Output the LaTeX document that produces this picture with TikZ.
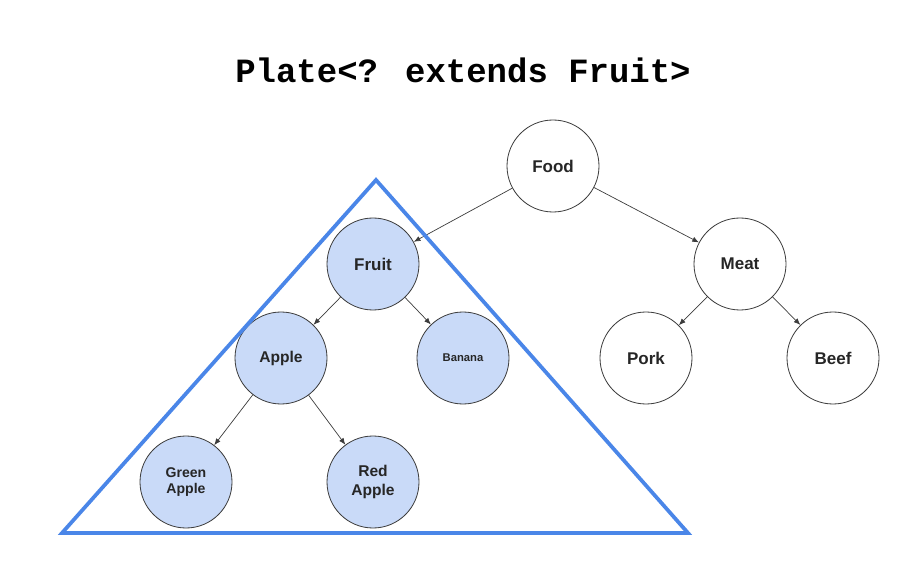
\documentclass[tikz,border=0pt]{standalone}
\usepackage{fontspec}
\setmainfont{Liberation Sans}
\newfontfamily\codefont{Liberation Mono}
\usepackage{xcolor}
\usepackage{tikz}
\usetikzlibrary{arrows.meta}

\definecolor{nodefill}{HTML}{C9DAF8}
\definecolor{plateblue}{HTML}{4A86E8}
\definecolor{edgegray}{HTML}{3C3C3C}

\begin{document}
\begin{tikzpicture}[
        x=0.03cm, y=0.03cm,
        item/.style={circle, draw=edgegray, line width=0.7pt, minimum size=2.76cm, inner sep=0pt, align=center, font=\bfseries\fontsize{14.5}{16}\selectfont, text=black!85},
        fruit/.style={item, fill=nodefill},
        arrow/.style={-{Latex[length=2mm, width=1.6mm]}, draw=edgegray, line width=0.6pt},
        plate/.style={draw=plateblue, line width=3.2pt}
    ]
        \useasboundingbox (0,0) rectangle (923,582);

        \node[font=\codefont\bfseries\fontsize{29}{32}\selectfont] (title) at (463,512) {Plate<? extends Fruit>};

        \node[item] (food) at (553,416) {Food};
        \node[fruit] (fruit) at (373,318) {Fruit};
        \node[item] (meat) at (740,318) {Meat};
        \node[fruit, font=\bfseries\fontsize{13.3}{15}\selectfont] (apple) at (281,224) {Apple};
        \node[fruit, font=\bfseries\fontsize{9.6}{11}\selectfont] (banana) at (463,224) {Banana};
        \node[item] (pork) at (646,224) {Pork};
        \node[item] (beef) at (833,224) {Beef};
        \node[fruit, font=\bfseries\fontsize{12}{14}\selectfont] (green) at (186,100) {Green\\Apple};
        \node[fruit, font=\bfseries\fontsize{13.3}{16}\selectfont] (red) at (373,100) {Red\\Apple};

        \draw[arrow] (food) -- (fruit);
        \draw[arrow] (food) -- (meat);
        \draw[arrow] (fruit) -- (apple);
        \draw[arrow] (fruit) -- (banana);
        \draw[arrow] (meat) -- (pork);
        \draw[arrow] (meat) -- (beef);
        \draw[arrow] (apple) -- (green);
        \draw[arrow] (apple) -- (red);

        % the plate
        \coordinate (top) at (376,402);
        \coordinate (left) at (62,49);
        \coordinate (right) at (688,49);
        \draw[plate] (top) -- (left) -- (right) -- cycle;
    \end{tikzpicture}
\end{document}
